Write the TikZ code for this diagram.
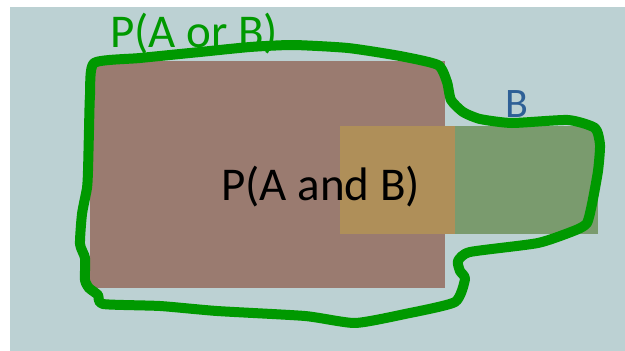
\documentclass[tikz,border=0pt]{standalone}
\usepackage{fontspec}
\setmainfont{Carlito}
\definecolor{bgc}{RGB}{188,209,211}
\definecolor{abrown}{RGB}{154,123,112}
\definecolor{overlap}{RGB}{175,143,89}
\definecolor{bgreen}{RGB}{122,155,110}
\definecolor{outline}{RGB}{0,153,0}
\definecolor{bblue}{RGB}{46,96,150}
\begin{document}
\begin{tikzpicture}[x=1pt,y=-1pt,
  lbl/.style={inner sep=0pt,anchor=base west,font=\fontsize{47}{52}\selectfont}]
\useasboundingbox (0,0) rectangle (625,351);
\fill[white] (0,0) rectangle (625,351);
\fill[bgc] (10,7) rectangle (625,351);
% A
\fill[abrown] (90,61) rectangle (445,288);
% B
\fill[bgreen] (340,126) rectangle (598,234);
% overlap
\fill[overlap] (340,126) rectangle (455,234);
% outline
\draw[outline,line width=10pt,line join=round,line cap=round]
  plot[smooth cycle,tension=0.35] coordinates {
  (94,63) (140,58) (200,52) (250,47) (293,45) (348,48) (400,56) (438,65)
  (447,82) (451,100) (463,112) (480,119) (512,123) (568,120) (595,128)
  (600,145) (598,171) (592,204) (587,223) (576,230) (538,243) (470,252)
  (458,261) (460,271) (465,279) (455,302) (405,314) (355,323) (305,316)
  (217,311) (160,306) (103,304) (98,295) (89,288) (85,280) (85,258)
  (80,244) (82,214) (87,188) (88,171) (89,130) (90,95)};
\node[lbl] (ab) at (221,200) {P(A and B)};
\node[lbl,text=outline] (aob) at (110,47) {P(A or B)};
\node[lbl,text=bblue,font=\fontsize{42}{46}\selectfont] (b) at (505,117) {B};
\end{tikzpicture}
\end{document}
